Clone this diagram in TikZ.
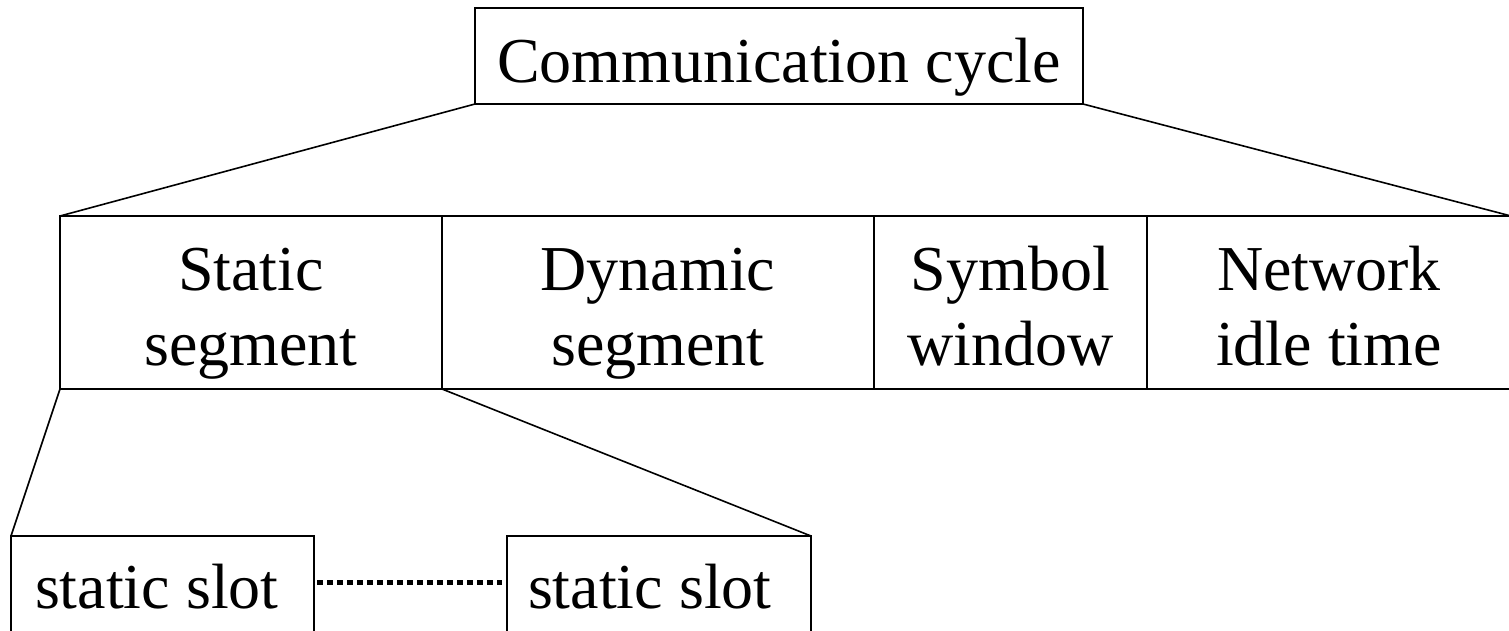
\documentclass[tikz,border=0pt]{standalone}
\usepackage{fontspec}
\setmainfont{Liberation Serif}
\begin{document}
\begin{tikzpicture}[x=1pt,y=-1pt,
  box/.style={draw=black,line width=2pt,rectangle,inner sep=0pt,outer sep=0pt},
  lbl/.style={inner sep=0pt,outer sep=0pt,font=\fontsize{64}{75}\selectfont},
  conn/.style={draw=black,line width=1.6pt},
  dotline/.style={draw=black,line width=5pt,dash pattern=on 6pt off 4pt}]
\useasboundingbox (0,0) rectangle (1509,630);
\clip (0,0) rectangle (1509,630);
% top box
\node[box,minimum width=608,minimum height=96] (cc) at (779,56) {};
\node[lbl,anchor=base] (cct) at (779,82) {Communication cycle};
% middle row
\node[box,minimum width=382,minimum height=173] (st) at (251,302.5) {};
\node[box,minimum width=432,minimum height=173] (dy) at (658,302.5) {};
\node[box,minimum width=273,minimum height=173] (sy) at (1010.5,302.5) {};
\node[box,minimum width=364,minimum height=173] (nw) at (1329,302.5) {};
\node[lbl,anchor=base] (st1) at (251,290) {Static};
\node[lbl,anchor=base] (st2) at (251,365) {segment};
\node[lbl,anchor=base] (dy1) at (658,290) {Dynamic};
\node[lbl,anchor=base] (dy2) at (658,365) {segment};
\node[lbl,anchor=base] (sy1) at (1010.5,290) {Symbol};
\node[lbl,anchor=base] (sy2) at (1010.5,365) {window};
\node[lbl,anchor=base] (nw1) at (1329,290) {Network};
\node[lbl,anchor=base] (nw2) at (1329,365) {idle time};
% bottom boxes
\node[box,minimum width=303,minimum height=170] (s1) at (162.5,621) {};
\node[box,minimum width=304,minimum height=170] (s2) at (659,621) {};
\node[lbl,anchor=base west] (s1t) at (35,608) {static slot};
\node[lbl,anchor=base west] (s2t) at (528,608) {static slot};
% connectors
\draw[conn] (cc.south west) -- (st.north west);
\draw[conn] (cc.south east) -- (nw.north east);
\draw[conn] (st.south west) -- (s1.north west);
\draw[conn] (st.south east) -- (s2.north east);
\coordinate (d1) at (317,582);
\coordinate (d2) at (502,582);
\draw[dotline] (d1) -- (d2);
\end{tikzpicture}
\end{document}
